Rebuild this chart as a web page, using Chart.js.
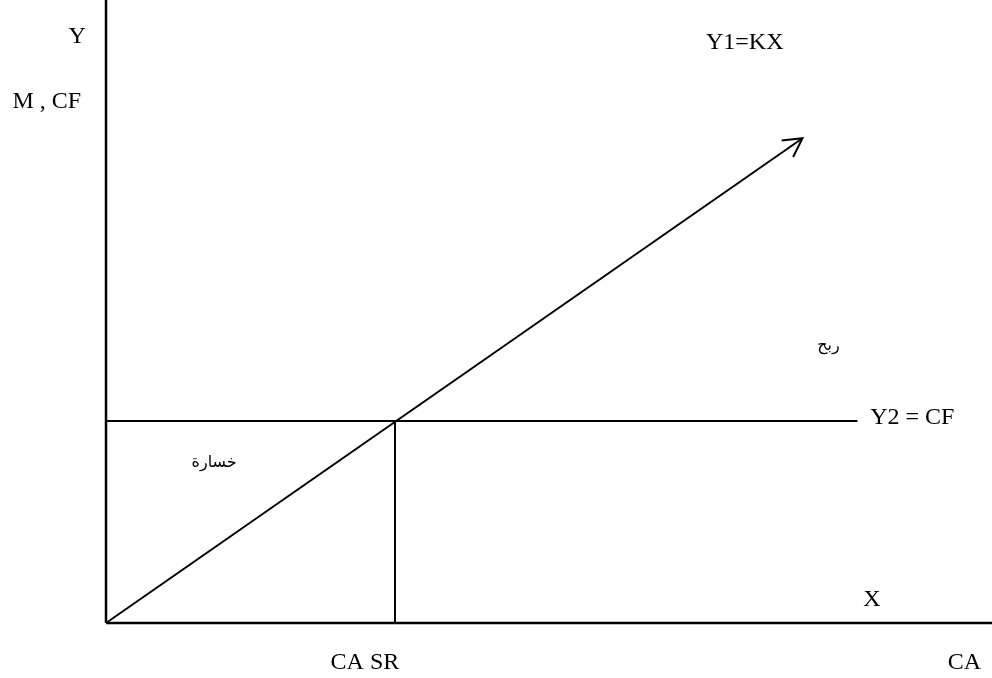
<!DOCTYPE html>
<html>
<head>
<meta charset="utf-8">
<script src="https://cdn.jsdelivr.net/npm/chart.js@4"></script>
<style>
  html, body { margin: 0; padding: 0; background: #fff; }
  #wrap { width: 992px; height: 678px; }
</style>
</head>
<body>
<div id="wrap"><canvas id="breakEvenChart" width="992" height="678"></canvas></div>
<script>
// break-even chart values (CA on x, M / CF on y)
const fixedCost = 70;          // CF
const breakEvenCA = 100;       // CA SR
const axisXEnd = 307;
const axisYEnd = 216;
const y1X = [0, 241];          // Y1 = KX
const y1Y = [0, 168];
const y2X = [0, 260];          // Y2 = CF
const y2Y = [fixedCost, fixedCost];
const srX = [breakEvenCA, breakEvenCA];
const srY = [0, fixedCost];

const labelTexts = ['Y', 'M , CF', 'Y1=KX', 'ربح', 'Y2 = CF', 'خسارة', 'X', 'CA SR', 'CA'];

// where the labels sit, in chart units
const labelPos = [
    { x: -10, y: 203 },
    { x: -20.5, y: 180.5 },
    { x: 221, y: 201 },
    { x: 250, y: 96 },
    { x: 279, y: 71 },
    { x: 37.4, y: 55.4 },
    { x: 265, y: 8 },
    { x: 89.6, y: -13.9 },
    { x: 297, y: -13.9 }
];

function pts(xs, ys) {
    return xs.map((x, i) => ({ x: x, y: ys[i] }));
}

function lineSet(data, width) {
    return {
        data: data,
        showLine: true,
        borderColor: '#000',
        borderWidth: width,
        pointRadius: 0,
        tension: 0,
        clip: false
    };
}

const labelPlugin = {
    id: 'labels',
    afterDatasetsDraw(chart) {
        const c = chart.ctx;
        const xs = chart.scales.x, ys = chart.scales.y;
        c.save();
        c.fillStyle = '#000';
        c.textAlign = 'center';
        c.textBaseline = 'middle';
        labelTexts.forEach((t, i) => {
            const arabic = /[\u0600-\u06FF]/.test(t);
            c.font = arabic ? '16px "DejaVu Sans"' : '24px "Liberation Serif"';
            c.fillText(t, xs.getPixelForValue(labelPos[i].x), ys.getPixelForValue(labelPos[i].y));
        });
        c.restore();
    }
};

const arrowPlugin = {
    id: 'arrow',
    afterDatasetsDraw(chart) {
        const meta = chart.getDatasetMeta(2);
        const a = meta.data[0], b = meta.data[1];
        const ang = Math.atan2(b.y - a.y, b.x - a.x);
        const len = 21, spread = 0.5;
        const c = chart.ctx;
        c.save();
        c.strokeStyle = '#000';
        c.lineWidth = 2;
        c.beginPath();
        c.moveTo(b.x - len * Math.cos(ang - spread), b.y - len * Math.sin(ang - spread));
        c.lineTo(b.x, b.y);
        c.lineTo(b.x - len * Math.cos(ang + spread), b.y - len * Math.sin(ang + spread));
        c.stroke();
        c.restore();
    }
};

const ctx = document.getElementById('breakEvenChart').getContext('2d');
new Chart(ctx, {
    type: 'scatter',
    data: {
        datasets: [
            lineSet(pts([0, 0], [0, axisYEnd]), 2.5),      // Y axis
            lineSet(pts([0, axisXEnd], [0, 0]), 2.5),      // X axis
            lineSet(pts(y1X, y1Y), 2),
            lineSet(pts(y2X, y2Y), 2),
            lineSet(pts(srX, srY), 2)
        ]
    },
    options: {
        responsive: false,
        animation: false,
        layout: { padding: 0 },
        scales: {
            x: { type: 'linear', display: false, min: -36.68, max: 306.57 },
            y: { type: 'linear', display: false, min: -19.06, max: 215.89 }
        },
        plugins: {
            legend: { display: false },
            tooltip: { enabled: false }
        }
    },
    plugins: [labelPlugin, arrowPlugin]
});
</script>
</body>
</html>
